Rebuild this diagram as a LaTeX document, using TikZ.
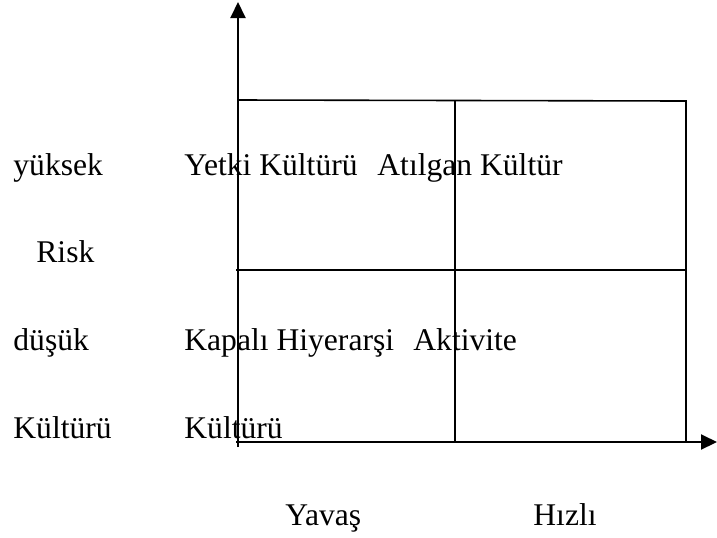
\documentclass[tikz,border=0pt]{standalone}
\usepackage{fontspec}
\setmainfont{Liberation Serif}
\usetikzlibrary{arrows.meta}
\begin{document}
\begin{tikzpicture}[x=0.5pt,y=-0.5pt,
  lbl/.style={anchor=base west,inner sep=0pt,font=\fontsize{15.8pt}{18pt}\selectfont},
  axisline/.style={line width=1pt,-{Triangle[width=7.5pt,length=8pt]}},
  gridline/.style={line width=0.8pt}]
\useasboundingbox (0,0) rectangle (717,537);
% grid coordinates
\coordinate (o) at (238,447);
\coordinate (ytop) at (238,2);
\coordinate (xo) at (236,442);
\coordinate (xend) at (717,442);
\coordinate (tl) at (238,100);
\coordinate (tr) at (686,101);
\coordinate (br) at (686,442);
\coordinate (tm) at (455,100);
\coordinate (bm) at (455,442);
\coordinate (ml) at (236,270);
\coordinate (mr) at (686,270);
% rectangle and dividers
\draw[gridline] (tl) -- (tr) -- (br);
\draw[gridline] (tm) -- (bm);
\draw[gridline] (ml) -- (mr);
% axes
\draw[axisline] (o) -- (ytop);
\draw[axisline] (xo) -- (xend);
% labels
\node[lbl] (yuksek) at (13,175) {yüksek};
\node[lbl] (risk) at (36,262) {Risk};
\node[lbl] (dusuk) at (13,350) {düşük};
\node[lbl] (kulturu) at (13,438) {Kültürü};
\node[lbl] (yetki) at (184,175) {Yetki Kültürü};
\node[lbl] (atilgan) at (377,175) {Atılgan Kültür};
\node[lbl] (kapali) at (184,350) {Kapalı Hiyerarşi};
\node[lbl] (aktivite) at (413,350) {Aktivite};
\node[lbl] (kulturu2) at (184,438) {Kültürü};
\node[lbl] (yavas) at (285,525) {Yavaş};
\node[lbl] (hizli) at (533,525) {Hızlı};
\end{tikzpicture}
\end{document}
